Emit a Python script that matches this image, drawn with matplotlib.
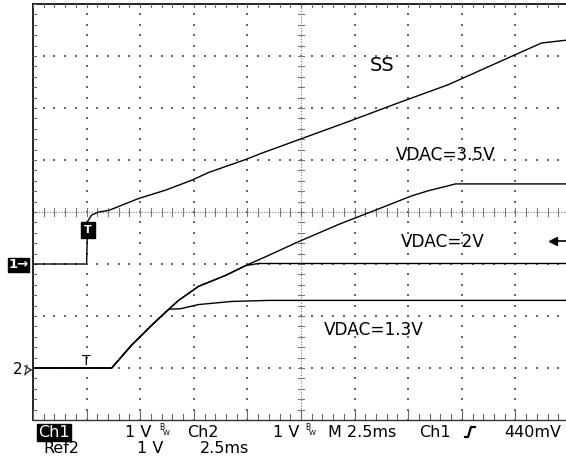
import numpy as np
import matplotlib.pyplot as plt
from matplotlib.lines import Line2D

# scope settings: 2.5 ms/div, 1 V/div, trigger at t = 0
t_div = 2.5
ch1_gnd = -1.0   # divisions from screen centre
ch2_gnd = -3.0
trig_level = 0.44

# Ch1 : soft-start (SS) pin
ss_t = [-2.5, 0.0, 0.05, 0.23, 0.56, 1.03, 2.43, 3.68, 4.90, 5.69, 7.42, 8.16,
        9.89, 12.22, 14.55, 16.88, 19.64, 21.22, 22.5]
ss_v = [0.0, 0.0, 0.82, 0.94, 1.0, 1.03, 1.26, 1.42, 1.61, 1.76, 2.01, 2.13,
        2.39, 2.74, 3.10, 3.45, 3.96, 4.25, 4.31]

# Ch2 / Ref2 : output for three VDAC settings (shared ramp first)
ramp_t = [-2.5, 1.17, 2.10, 3.03, 3.83]
ramp_v = [0.0, 0.0, 0.44, 0.82, 1.13]
v13_t = ramp_t + [4.38, 5.22, 6.77, 8.49, 22.5]
v13_v = ramp_v + [1.14, 1.22, 1.28, 1.30, 1.30]
v20_t = ramp_t + [4.29, 5.22, 6.48, 7.42, 8.02, 22.5]
v20_v = ramp_v + [1.30, 1.57, 1.78, 1.97, 2.01, 2.01]
v35_t = ramp_t + [4.29, 5.22, 6.48, 7.42, 8.35, 9.89, 11.75, 13.62, 15.16, 15.95, 17.21, 22.5]
v35_v = ramp_v + [1.30, 1.57, 1.78, 1.97, 2.14, 2.43, 2.76, 3.06, 3.31, 3.41, 3.54, 3.54]

labels = ['SS', 'VDAC=3.5V', 'VDAC=2V', 'VDAC=1.3V']
label_t = [13.2, 14.41, 14.65, 11.05]
label_y = [2.71, 1.0, -0.67, -2.37]
label_fs = [14, 12.2, 12.2, 12.2]

W, H = 566, 457
fig = plt.figure(figsize=(W / 100, H / 100), dpi=100)
ax = fig.add_axes([33 / W, 37 / H, 536 / W, 416 / H])
ax.set_xlim(-2.5, 22.5)
ax.set_ylim(-4, 4)
ax.axis('off')

x0, x1 = -2.5, 22.5
dot = dict(marker='s', s=1.3, color='#666666', linewidths=0, zorder=1)

# graticule dots along major lines
for k in range(1, 10):
    if k == 5:
        continue
    xs = x0 + k * t_div
    ys = np.arange(-4, 4.01, 0.2)
    ax.scatter(np.full(len(ys), xs), ys, **dot)
for k in [-3, -2, -1, 1, 2, 3]:
    xs = np.arange(x0, x1 + 0.01, t_div / 5)
    ax.scatter(xs, np.full(len(xs), k), **dot)

# centre lines with ticks
xc = x0 + 5 * t_div
ax.plot([xc, xc], [-4, 4], color='#777777', lw=0.8, ls=(0, (1, 1.5)), zorder=1)
ax.plot([x0, x1], [0, 0], color='#777777', lw=0.8, ls=(0, (1, 1.5)), zorder=1)
for yy in np.arange(-4, 4.01, 0.2):
    ax.plot([xc - 0.16, xc + 0.16], [yy, yy], color='#777777', lw=0.8, zorder=1)
for xx in np.arange(x0, x1 + 0.01, t_div / 5):
    ax.plot([xx, xx], [-0.07, 0.07], color='#777777', lw=0.8, zorder=1)

# border with ticks
ax.plot([x0, x1], [4, 4], color='black', lw=1.2, clip_on=False)
ax.plot([x0, x0], [-4, 4], color='black', lw=1.2, clip_on=False)
ax.plot([x0, x1], [-4, -4], color='#333333', lw=1.0, clip_on=False)
for xx in np.arange(x0, x1 + 0.01, t_div / 5):
    ax.plot([xx, xx], [4, 3.94], color='#666666', lw=0.8)
    major = abs((xx - x0) / t_div - round((xx - x0) / t_div)) < 1e-6
    ax.plot([xx, xx], [-4, -3.8 if major else -3.88], color='#666666', lw=0.8)
for yy in np.arange(-4, 4.01, 0.2):
    ax.plot([x0, x0 + 0.12], [yy, yy], color='#666666', lw=0.8)

# traces
ax.plot(ss_t, np.array(ss_v) + ch1_gnd, color='black', lw=1.0, zorder=3)
for tt, vv in [(v13_t, v13_v), (v20_t, v20_v), (v35_t, v35_v)]:
    ax.plot(tt, np.array(vv) + ch2_gnd, color='black', lw=1.0, zorder=3)

for s, tx, ty, f in zip(labels, label_t, label_y, label_fs):
    ax.text(tx, ty, s, fontsize=f, ha='left', va='baseline', color='black')

# trigger marker on Ch1, ref marker, trigger level arrow
ax.text(0.05, -0.34, 'T', color='white', fontsize=8, fontweight='bold', ha='center', va='center',
        bbox=dict(facecolor='black', edgecolor='black', pad=2.2), zorder=4)
ax.text(0.0, -2.87, 'T', color='black', fontsize=10, ha='center', va='center', zorder=4)
ax.plot([21.9, 22.5], [ch1_gnd + trig_level] * 2, color='black', lw=1.2, clip_on=False, zorder=4)
ax.plot([21.75], [ch1_gnd + trig_level], marker='<', ms=6, color='black', clip_on=False, zorder=4)

# channel ground markers left of the screen
fig.text(18.5 / W, 1 - 265 / H, '1→', color='white', fontsize=9.5, fontweight='bold',
         ha='center', va='center', bbox=dict(facecolor='black', edgecolor='black', pad=0.6))
fig.text(13 / W, 1 - 370 / H, '2', color='black', fontsize=11, ha='left', va='center')
fig.add_artist(Line2D([25 / W, 31 / W], [1 - 366 / H, 1 - 370 / H], color='#333333', lw=1.0))
fig.add_artist(Line2D([25 / W, 31 / W], [1 - 374 / H, 1 - 370 / H], color='#333333', lw=1.0))
fig.add_artist(Line2D([25 / W, 27 / W], [1 - 375 / H, 1 - 365 / H], color='#333333', lw=0.8))

# readout
fs = 11.5
fig.text(38 / W, 1 - 437 / H, 'Ch1', color='white', fontsize=fs, ha='left', va='baseline',
         bbox=dict(facecolor='black', edgecolor='black', pad=0.8))
row1 = [(125, '1 V'), (187, 'Ch2'), (273, '1 V'), (328, 'M 2.5ms'), (419, 'Ch1'), (504, '440mV')]
for px, s in row1:
    fig.text(px / W, 1 - 437 / H, s, fontsize=fs, ha='left', va='baseline')
row2 = [(43, 'Ref2'), (137, '1 V'), (200, '2.5ms')]
for px, s in row2:
    fig.text(px / W, 1 - 453 / H, s, fontsize=fs, ha='left', va='baseline')
for px in [159, 305]:
    fig.text(px / W, 1 - 430 / H, 'B', fontsize=5.5, ha='left', va='baseline')
    fig.text((px + 4) / W, 1 - 435 / H, 'W', fontsize=5, ha='left', va='baseline')
fig.add_artist(Line2D([465 / W, 468 / W, 471 / W, 475 / W],
                      [1 - 437 / H, 1 - 437 / H, 1 - 427 / H, 1 - 427 / H], color='black', lw=1.6))

fig.savefig('out.png', dpi=100)
